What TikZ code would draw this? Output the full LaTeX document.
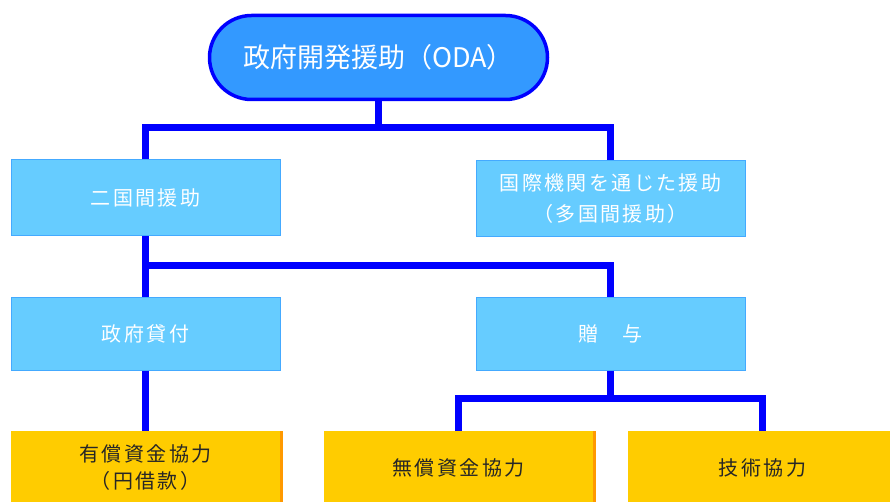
\documentclass[tikz,border=0pt]{standalone}
\usepackage{fontspec}
\setmainfont{Noto Sans CJK JP}
\usepackage{tikz}
\usetikzlibrary{shadows}
\definecolor{odafill}{HTML}{3399FF}
\definecolor{odaline}{HTML}{0000FF}
\definecolor{boxfill}{HTML}{66CCFF}
\definecolor{boxline}{HTML}{44AAFF}
\definecolor{leaffill}{HTML}{FFCC00}
\definecolor{leafshade}{HTML}{FF9900}

\begin{document}
\begin{tikzpicture}[x=1pt, y=-1pt,
	link/.style = {line width=7pt, odaline},
	topbox/.style = {draw=odaline, line width=3.5pt, fill=odafill, rounded corners=42pt,
		minimum width=338pt, minimum height=84pt, inner sep=0pt, text=white,
		font=\fontsize{27}{32}\selectfont},
	midbox/.style = {draw=boxline, line width=1pt, fill=boxfill, minimum width=269pt,
		inner sep=0pt, text=white, align=center,
		font=\addfontfeature{LetterSpace=12}\fontsize{20}{31}\selectfont},
	leafbox/.style = {fill=leaffill, minimum width=269pt, minimum height=74pt, inner sep=0pt,
		align=center, text=black!85,
		drop shadow={shadow xshift=3pt, shadow yshift=0pt, fill=leafshade, opacity=1},
		font=\addfontfeature{LetterSpace=12}\fontsize{20}{27}\selectfont}]
	\useasboundingbox (0,0) rectangle (890,502);

	\node [topbox] (oda) at (378.5,57.5) {政府開発援助（ODA）};

	\node [midbox, minimum height=76pt] (bilat) at (145.5,198) {二国間援助};
	\node [midbox, minimum height=76pt] (multi) at (610.5,198.5) {国際機関を通じた援助\\（多国間援助）};

	\node [midbox, minimum height=73pt] (loan) at (145.5,333.5) {政府貸付};
	\node [midbox, minimum height=73pt] (gift) at (610.5,333.5) {贈　与};

	\node [leafbox] (yen) at (145.5,468) {有償資金協力\\（円借款）};
	\node [leafbox] (grant) at (458.5,468) {無償資金協力};
	\node [leafbox] (tech) at (762.5,468) {技術協力};

	\coordinate (j1) at (378.5,128);
	\coordinate (j2) at (145.5,266);
	\coordinate (j3) at (610.5,398);

	\draw [link] (oda.south) -- (j1);
	\draw [link] (bilat.north) |- (j1) -| (multi.north);
	\draw [link] (bilat.south) -- (loan.north);
	\draw [link] (j2) -| (gift.north);
	\draw [link] (loan.south) -- (yen.north);
	\draw [link] (gift.south) -- (j3);
	\draw [link] (grant.north) |- (j3) -| (tech.north);
\end{tikzpicture}
\end{document}
